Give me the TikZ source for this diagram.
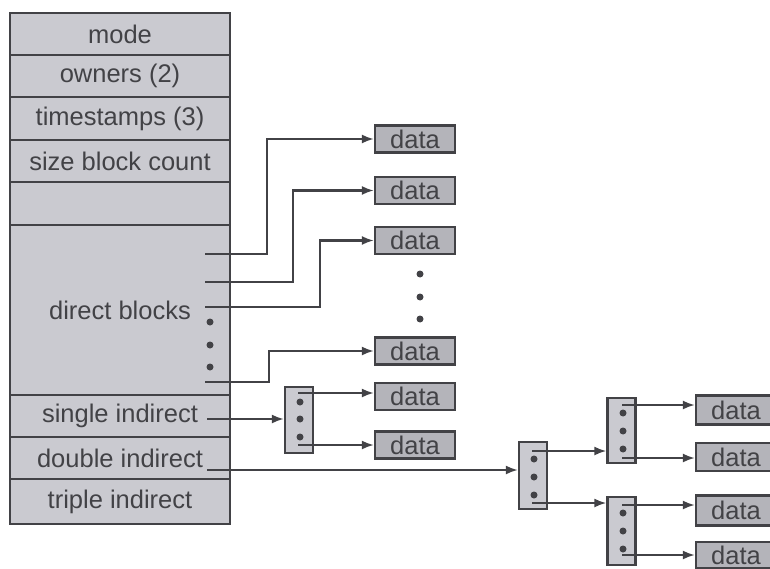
\documentclass[tikz,border=0pt]{standalone}
\usepackage{fontspec}
\setmainfont{Liberation Sans}
\usetikzlibrary{arrows.meta}
\definecolor{ink}{RGB}{66,66,70}
\definecolor{tablegray}{RGB}{202,202,208}
\definecolor{boxgray}{RGB}{180,180,186}

\begin{document}
\begin{tikzpicture}[x=1pt, y=-1pt, >={Latex[length=12pt,width=9pt]}, line width=2.2pt, color=ink,
    row/.style={draw, fill=tablegray, minimum width=220pt, inner sep=0pt, font=\fontsize{25.5}{30}\selectfont},
    datab/.style={draw, fill=boxgray, minimum width=80pt, minimum height=27pt, inner sep=0pt, font=\fontsize{25.5}{30}\selectfont},
    idx/.style={draw, fill=tablegray, minimum width=28pt, minimum height=66pt, inner sep=0pt},
    dot/.style={circle, fill, inner sep=0pt, minimum size=7pt}]
        \useasboundingbox (0,0) rectangle (770,569);
        % inode table
        \node[row, minimum height=42pt] (mode) at (120,34) {mode};
        \node[row, minimum height=42pt] (owners) at (120,76) {owners (2)};
        \node[row, minimum height=43pt] (stamps) at (120,118.5) {timestamps (3)};
        \node[row, minimum height=42pt] (size) at (120,161) {size block count};
        \node[row, minimum height=43pt] (blank) at (120,203.5) {};
        \node[row, minimum height=170pt] (direct) at (120,310) {direct blocks};
        \node[row, minimum height=42pt] (single) at (120,416) {single indirect};
        \node[row, minimum height=42pt] (double) at (120,458) {double indirect};
        \node[row, minimum height=45pt] (triple) at (120,501.5) {triple indirect};
        \foreach \y [count=\i] in {322,345,367}
            \node[dot] (td\i) at (210,\y) {};
        % direct data blocks
        \node[datab] (b1) at (415,139) {data};
        \node[datab] (b2) at (415,190.5) {data};
        \node[datab] (b3) at (415,240.5) {data};
        \node[datab] (b4) at (415,351) {data};
        \node[datab] (b5) at (415,396.5) {data};
        \node[datab] (b6) at (415,445) {data};
        \foreach \y [count=\i] in {274,297,319}
            \node[dot] (bd\i) at (420,\y) {};
        \coordinate (p1) at (205,254);
        \coordinate (p2) at (205,282);
        \coordinate (p3) at (205,307);
        \coordinate (p4) at (205,382);
        \draw[->] (p1) -- ++(62,0) |- (b1.west);
        \draw[->] (p2) -- ++(88,0) |- (b2.west);
        \draw[->] (p3) -- ++(115,0) |- (b3.west);
        \draw[->] (p4) -- ++(64,0) |- (b4.west);
        % single indirect
        \node[idx] (s) at (299,420) {};
        \foreach \y [count=\i] in {402,419,437}
            \node[dot] (sd\i) at (300,\y) {};
        \coordinate (si) at (207,419);
        \coordinate (s1) at (298,393);
        \coordinate (s2) at (298,445);
        \draw[->] (si) -- (si -| s.west);
        \draw[->] (s1) -- (s1 -| b5.west);
        \draw[->] (s2) -- (s2 -| b6.west);
        % double indirect
        \node[idx, minimum height=67pt] (d) at (533,475.5) {};
        \node[idx, minimum height=65pt] (d1) at (621.5,430.5) {};
        \node[idx, minimum height=68pt] (d2) at (621.5,531) {};
        \foreach \y [count=\i] in {459,477,495}
            \node[dot] (dd\i) at (534,\y) {};
        \foreach \y [count=\i] in {413,431,449}
            \node[dot] (ed\i) at (623,\y) {};
        \foreach \y [count=\i] in {513,531,549}
            \node[dot] (fd\i) at (623,\y) {};
        \node[datab, minimum height=29pt] (e1) at (736,410) {data};
        \node[datab, minimum height=28pt] (e2) at (736,457) {data};
        \node[datab, minimum height=30pt] (e3) at (736,510.5) {data};
        \node[datab, minimum height=26pt] (e4) at (736,555) {data};
        \coordinate (di) at (207,470);
        \coordinate (q1) at (532,451);
        \coordinate (q2) at (532,503);
        \coordinate (r1) at (622,405);
        \coordinate (r2) at (622,458);
        \coordinate (r3) at (622,505);
        \coordinate (r4) at (622,555);
        \draw[->] (di) -- (di -| d.west);
        \draw[->] (q1) -- (q1 -| d1.west);
        \draw[->] (q2) -- (q2 -| d2.west);
        \draw[->] (r1) -- (r1 -| e1.west);
        \draw[->] (r2) -- (r2 -| e2.west);
        \draw[->] (r3) -- (r3 -| e3.west);
        \draw[->] (r4) -- (r4 -| e4.west);
    \end{tikzpicture}
\end{document}
